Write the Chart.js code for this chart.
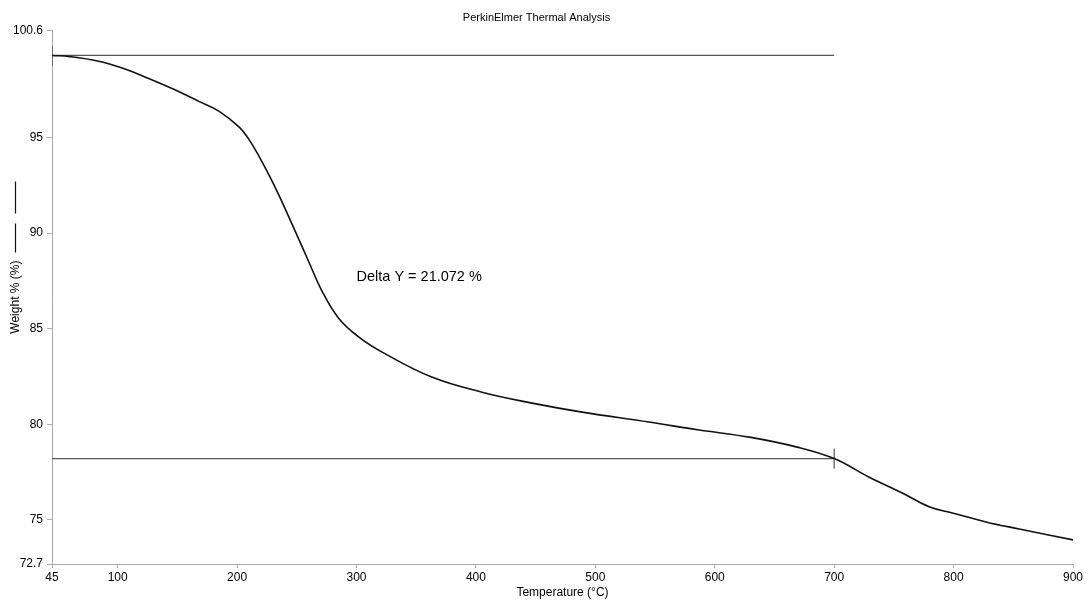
<!DOCTYPE html>
<html>
<head>
<meta charset="utf-8">
<script src="https://cdn.jsdelivr.net/npm/chart.js@4.4.1/dist/chart.umd.min.js"></script>
<style>
  html, body { margin: 0; padding: 0; background: #fff; }
  #wrap { width: 1086px; height: 602px; }
</style>
</head>
<body>
<div id="wrap"><canvas id="tga"></canvas></div>
<script>
// TGA weight loss curve
const temps = [45, 60, 84, 105, 126, 147, 168, 185, 202, 210, 218, 227, 235, 249, 260, 271, 285, 302, 323,
  363, 405, 447, 489, 545, 587, 629, 669, 700, 729, 757, 780, 799, 827, 855, 900];
const weights = [99.28, 99.22, 98.98, 98.6, 98.08, 97.51, 96.88, 96.36, 95.52, 94.88, 94.05, 93.0, 91.98, 90.05, 88.5, 86.98, 85.55, 84.56, 83.72,
  82.47, 81.68, 81.11, 80.64, 80.12, 79.70, 79.33, 78.81, 78.21, 77.25, 76.41, 75.68, 75.37, 74.90, 74.53, 73.96];

const xTicks = [45, 100, 200, 300, 400, 500, 600, 700, 800, 900];
const yTicks = [72.7, 75, 80, 85, 90, 95, 100.6];

// delta Y markers
const markX = [45, 700];
const deltaY = 21.072;
const topLevel = 99.28;
const bottomLevel = topLevel - deltaY;
const deltaLabel = 'Delta Y = ' + deltaY.toFixed(3) + ' %';
const labelAt = { x: 300, y: 87.7 };

const FONT = '"Liberation Sans", Arial, sans-serif';

const extras = {
  id: 'extras',
  afterDatasetsDraw(chart) {
    const { ctx, scales: { x, y } } = chart;
    ctx.save();
    ctx.font = '14.5px ' + FONT;
    ctx.fillStyle = '#000';
    ctx.textAlign = 'left';
    ctx.textBaseline = 'middle';
    ctx.fillText(deltaLabel, x.getPixelForValue(labelAt.x), y.getPixelForValue(labelAt.y));
    ctx.restore();
  },
  afterDraw(chart) {
    // line sample next to the y axis title
    const { ctx, chartArea } = chart;
    const mid = (chartArea.top + chartArea.bottom) / 2;
    ctx.save();
    ctx.font = '12px ' + FONT;
    const half = ctx.measureText('Weight % (%)').width / 2;
    ctx.strokeStyle = '#111';
    ctx.lineWidth = 1.2;
    const lx = 15.5;
    const s1 = mid - half - 8;
    ctx.beginPath();
    ctx.moveTo(lx, s1); ctx.lineTo(lx, s1 - 29);
    ctx.moveTo(lx, s1 - 39); ctx.lineTo(lx, s1 - 71);
    ctx.stroke();
    ctx.restore();
  }
};

new Chart(document.getElementById('tga'), {
  type: 'line',
  data: {
    datasets: [{
      label: 'Weight %',
      data: temps.map((t, i) => ({ x: t, y: weights[i] })),
      borderColor: '#111',
      borderWidth: 1.6,
      pointRadius: 0,
      tension: 0.4,
      fill: false
    }, {
      label: 'start level',
      data: markX.map(t => ({ x: t, y: topLevel })),
      borderColor: '#555',
      borderWidth: 1.2,
      pointRadius: 0,
      fill: false
    }, {
      label: 'end level',
      data: markX.map(t => ({ x: t, y: bottomLevel })),
      borderColor: '#555',
      borderWidth: 1.2,
      pointRadius: 0,
      fill: false
    }, {
      label: 'markers',
      data: [{ x: markX[0], y: topLevel }, { x: markX[1], y: bottomLevel }],
      showLine: false,
      pointStyle: 'line',
      rotation: 90,
      pointRadius: 10,
      borderColor: '#333',
      borderWidth: 1
    }]
  },
  options: {
    responsive: true,
    maintainAspectRatio: false,
    animation: false,
    layout: { padding: { right: 13, bottom: 0 } },
    plugins: {
      legend: { display: false },
      tooltip: { enabled: false },
      title: {
        display: true,
        text: 'PerkinElmer Thermal Analysis',
        color: '#000',
        font: { family: FONT, size: 11, weight: 'normal' },
        padding: { top: 11, bottom: 6 }
      }
    },
    scales: {
      x: {
        type: 'linear',
        min: 45,
        max: 900,
        afterBuildTicks: s => { s.ticks = xTicks.map(v => ({ value: v })); },
        afterFit: s => { s.height = 38; },
        ticks: {
          color: '#000',
          font: { family: FONT, size: 12 },
          padding: 2,
          maxRotation: 0,
          callback: v => String(v)
        },
        grid: { drawOnChartArea: false, tickLength: 4, color: '#aaa' },
        border: { color: '#aaa' },
        title: {
          display: true,
          text: 'Temperature (°C)',
          color: '#000',
          font: { family: FONT, size: 12 },
          padding: { top: 0, bottom: 2 }
        }
      },
      y: {
        min: 72.7,
        max: 100.6,
        afterBuildTicks: s => { s.ticks = yTicks.map(v => ({ value: v })); },
        afterFit: s => { s.width = 52; },
        ticks: {
          color: '#000',
          font: { family: FONT, size: 12 },
          padding: 4,
          callback: v => String(v)
        },
        grid: { drawOnChartArea: false, tickLength: 5, color: '#aaa' },
        border: { color: '#aaa' },
        title: {
          display: true,
          text: 'Weight % (%)',
          color: '#000',
          font: { family: FONT, size: 12 },
          padding: { top: 8, bottom: 0 }
        }
      }
    }
  },
  plugins: [extras]
});
</script>
</body>
</html>
